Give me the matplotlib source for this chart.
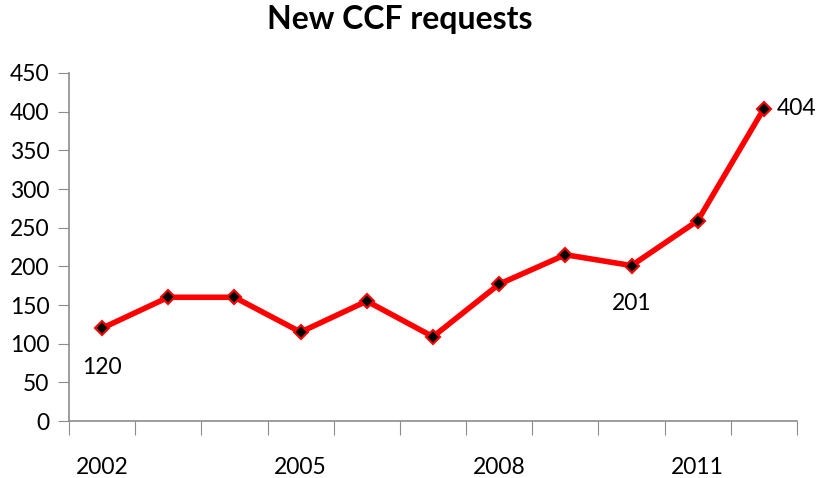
import matplotlib.pyplot as plt
import numpy as np

# data
years = [2002, 2003, 2004, 2005, 2006, 2007, 2008, 2009, 2010, 2011, 2012]
requests = [120, 160, 160, 115, 155, 109, 177, 215, 201, 259, 404]
shown_years = [2002, 2005, 2008, 2011]

plt.rcParams['font.family'] = ['Lato', 'DejaVu Sans']
fs = 16.5

fig = plt.figure(figsize=(8.18, 4.78), dpi=100)
ax = fig.add_axes([69/818, 57/478, 728/818, 348/478])

x = np.arange(len(years))
ax.plot(x, requests, color='red', lw=4, marker='D', markersize=7.5,
        markerfacecolor='black', markeredgecolor='red', markeredgewidth=1.5,
        zorder=3)

ax.set_xlim(-0.5, len(years) - 0.5)
ax.set_ylim(0, 450)
ax.set_yticks(range(0, 451, 50))
ax.tick_params(axis='y', labelsize=fs, length=8, color='#8c8c8c', pad=6)

# category boundary ticks, labels every third year
ax.set_xticks(np.arange(len(years) + 1) - 0.5)
ax.set_xticklabels([])
ax.set_xticks([years.index(y) for y in shown_years], minor=True)
ax.set_xticklabels([str(y) for y in shown_years], minor=True, fontsize=fs)
ax.tick_params(axis='x', which='major', length=10, color='#8c8c8c')
ax.tick_params(axis='x', which='minor', length=0, pad=26)

for s in ['top', 'right']:
    ax.spines[s].set_visible(False)
for s in ['left', 'bottom']:
    ax.spines[s].set_color('#8c8c8c')
    ax.spines[s].set_linewidth(1.2)

# data labels
i = years.index(2002)
ax.annotate(str(requests[i]), (x[i], requests[i]), xytext=(0, -28),
            textcoords='offset points', ha='center', va='center', fontsize=fs)
i = years.index(2010)
ax.annotate(str(requests[i]), (x[i], requests[i]), xytext=(0, -27),
            textcoords='offset points', ha='center', va='center', fontsize=fs)
i = years.index(2012)
ax.annotate(str(requests[i]), (x[i], requests[i]), xytext=(9, 0),
            textcoords='offset points', ha='left', va='center', fontsize=fs)

fig.text(400/818, 1 - 20/478, 'New CCF requests', ha='center', va='center',
         fontsize=23, fontweight='bold')

fig.savefig('out.png', dpi=100)
